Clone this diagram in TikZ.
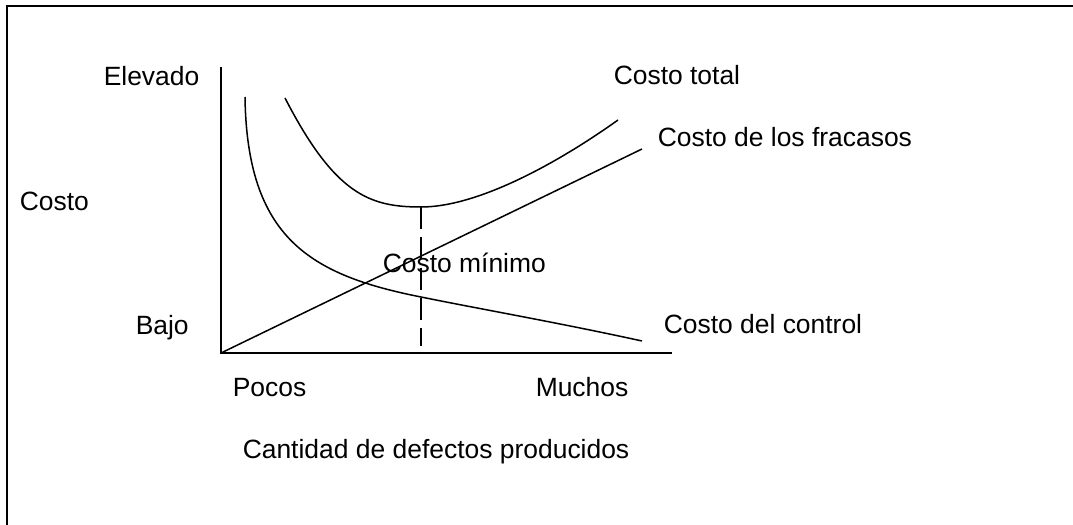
\documentclass[tikz,border=0pt]{standalone}
\usepackage{fontspec}
\setmainfont{Liberation Sans}
\usepackage{tikz}

\tikzset{
  lab/.style={anchor=base west,inner sep=0pt,font=\fontsize{18.8}{22}\selectfont},
  curve/.style={line width=1.07pt},
}

\begin{document}
\begin{tikzpicture}[x=0.025cm,y=-0.025cm,line width=1.07pt]
\useasboundingbox (0,0) rectangle (1073,525);
\draw[line width=1.45pt] (1080,6) -| (7,530);

\draw (103,86) node[lab](EL) {Elevado};
\draw (19,211) node[lab](CO) {Costo};
\draw (135,334) node[lab](BA) {Bajo};

\draw (613,85) node[lab](CT) {Costo total};
\draw (657,147) node[lab](CF) {Costo de los fracasos};
\draw (663,333) node[lab](CC) {Costo del control};
\draw (382,272) node[lab](CM) {Costo m\'inimo};

\draw (232,396) node[lab](PO) {Pocos};
\draw (535,396) node[lab](MU) {Muchos};
\draw (242,458) node[lab](CD) {Cantidad de defectos producidos};

\coordinate (O) at (221,353);
\coordinate (YT) at (221,67);
\coordinate (XE) at (672,353);
\coordinate (FE) at (642,149);
\coordinate (MIN) at (421,207);
\coordinate (MB) at (421,346);

\draw (YT) -- (O) -- (XE);
\draw (O) -- (FE);
% control
\draw[curve] (245,97) .. controls (247,238) and (310,275) .. (421,297)
  .. controls (480,309) and (560,323) .. (642,341);
% total
\draw[curve] (285,98) .. controls (335,195) and (370,207) .. (MIN)
  .. controls (480,207) and (562,160) .. (618,120);
\draw[dash pattern=on 15.6pt off 6pt] (MIN) -- (MB);

\end{tikzpicture}
\end{document}
